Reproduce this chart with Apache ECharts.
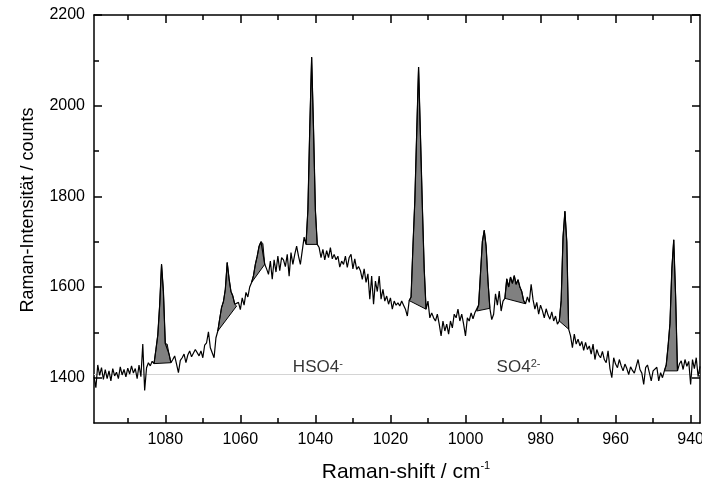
<!DOCTYPE html>
<html>
<head>
<meta charset="utf-8">
<script src="https://cdn.jsdelivr.net/npm/echarts@6/dist/echarts.min.js"></script>
<style>
html,body{margin:0;padding:0;background:#fff;}
#chart{width:702px;height:491px;}
</style>
</head>
<body>
<div id="chart"></div>
<script>
// ---- data ----
// Raman shift grid: 1099.0 down to 937.5 cm^-1 in 0.5 cm^-1 steps (10 values per row = 5 cm^-1)
var shiftStart = 1099.0;
var shiftStep = -0.5;
var intensity = [
  1402,1378,1428,1405,1422,1396,1418,1398,1415,1393, // 1099.0-1094.5
  1420,1404,1412,1398,1424,1406,1418,1402,1421,1408, // 1094.0-1089.5
  1426,1410,1420,1398,1428,1402,1474,1372,1422,1433, // 1089.0-1084.5
  1426,1436,1431,1462,1494,1560,1650,1590,1475,1474, // 1084.0-1079.5
  1452,1433,1440,1448,1430,1411,1438,1444,1452,1433, // 1079.0-1074.5
  1450,1459,1446,1444,1462,1466,1448,1459,1444,1472, // 1074.0-1069.5
  1477,1501,1466,1455,1444,1488,1503,1530,1555,1568, // 1069.0-1064.5
  1595,1654,1618,1590,1580,1562,1558,1566,1550,1576, // 1064.0-1059.5
  1560,1588,1578,1600,1610,1625,1650,1668,1690,1700, // 1059.0-1054.5
  1696,1650,1640,1628,1657,1617,1660,1633,1668,1636, // 1054.0-1049.5
  1665,1660,1645,1672,1624,1676,1650,1672,1690,1668, // 1049.0-1044.5
  1650,1652,1710,1694,1770,1950,2107,1950,1770,1694, // 1044.0-1039.5
  1687,1665,1683,1660,1680,1665,1687,1662,1672,1660, // 1039.0-1034.5
  1668,1644,1657,1650,1668,1643,1665,1672,1640,1662, // 1034.0-1029.5
  1639,1645,1636,1617,1640,1610,1629,1573,1624,1562, // 1029.0-1024.5
  1613,1590,1624,1573,1595,1569,1580,1562,1576,1551, // 1024.0-1019.5
  1569,1560,1565,1558,1569,1560,1551,1536,1570,1578, // 1019.0-1014.5
  1690,1790,1940,2085,1935,1780,1640,1551,1569,1532, // 1014.0-1009.5
  1543,1532,1525,1540,1518,1492,1525,1503,1518,1496, // 1009.0-1004.5
  1525,1510,1540,1532,1551,1525,1540,1518,1492,1532, // 1004.0-999.5
  1525,1543,1530,1543,1547,1560,1630,1700,1725,1690, // 999.0-994.5
  1613,1553,1528,1540,1585,1560,1591,1547,1569,1575, // 994.0-989.5
  1618,1600,1622,1608,1625,1606,1616,1600,1590,1570, // 989.0-984.5
  1563,1578,1566,1606,1572,1551,1566,1540,1560,1548, // 984.0-979.5
  1532,1552,1538,1529,1545,1525,1536,1518,1525,1570, // 979.0-974.5
  1710,1767,1700,1507,1492,1466,1496,1474,1485,1470, // 974.0-969.5
  1480,1460,1478,1462,1470,1452,1474,1440,1462,1450, // 969.0-964.5
  1444,1458,1440,1433,1459,1420,1400,1444,1430,1422, // 964.0-959.5
  1440,1426,1415,1430,1420,1407,1424,1416,1410,1425, // 959.0-954.5
  1440,1418,1410,1385,1422,1428,1411,1393,1415,1418, // 954.0-949.5
  1423,1393,1411,1400,1415,1428,1470,1520,1640,1704, // 949.0-944.5
  1580,1415,1430,1437,1418,1440,1425,1436,1385,1440, // 944.0-939.5
  1420,1444,1402,1425                                // 939.0-937.5
];
// shaded peak regions [from, to] in cm^-1
var peakRanges = [
  [1083.0, 1078.5], [1066.0, 1061.0], [1057.0, 1053.5], [1042.5, 1039.5],
  [1015.0, 1010.5], [997.0, 993.5], [989.5, 984.0], [975.0, 972.5], [947.0, 943.5]
];
var refLevel = 1408;
var annotations = [
  {name: 'HSO4', sup: '-', x: 1046.0},
  {name: 'SO4', sup: '2-', x: 991.7}
];
var xMin = 937.5, xMax = 1099.0;
var yMin = 1300, yMax = 2200;
var xTicks = [940, 960, 980, 1000, 1020, 1040, 1060, 1080];
var xMinorTicks = [950, 970, 990, 1010, 1030, 1050, 1070, 1090];
var yTicks = [1400, 1600, 1800, 2000, 2200];
var yMinorTicks = [1500, 1700, 1900, 2100];
var xTitle = 'Raman-shift / cm';
var xTitleSup = '-1';
var yTitle = 'Raman-Intensität / counts';

// ---- build ----
var spectrum = intensity.map(function (v, i) {
  return [+(shiftStart + shiftStep * i).toFixed(2), v];
});
var FONT = '"Liberation Sans", Arial, Helvetica, sans-serif';
var BLACK = '#000';
function plain(v) { return String(Math.round(v)); }

function xAxisDef(pos, ticks, len, withLabels, withLine) {
  return {
    type: 'value', min: xMin, max: xMax, inverse: true, position: pos,
    axisLine: {show: withLine, onZero: false, lineStyle: {color: BLACK, width: 1.5}},
    axisTick: {show: true, inside: true, length: len, customValues: ticks,
               lineStyle: {color: BLACK, width: 1.5}},
    axisLabel: {show: withLabels, customValues: ticks, fontSize: 16, color: BLACK,
                fontFamily: FONT, margin: 9, formatter: plain,
                showMinLabel: true, showMaxLabel: true, hideOverlap: false},
    splitLine: {show: false}
  };
}
function yAxisDef(pos, ticks, len, withLabels, withLine) {
  return {
    type: 'value', min: yMin, max: yMax, position: pos,
    axisLine: {show: withLine, onZero: false, lineStyle: {color: BLACK, width: 1.5}},
    axisTick: {show: true, inside: true, length: len, customValues: ticks,
               lineStyle: {color: BLACK, width: 1.5}},
    axisLabel: {show: withLabels, customValues: ticks, fontSize: 16, color: BLACK,
                fontFamily: FONT, margin: 9, formatter: plain,
                showMinLabel: true, showMaxLabel: true, hideOverlap: false},
    splitLine: {show: false}
  };
}

var xMain = xAxisDef('bottom', xTicks, 8, true, true);
xMain.name = '{t|' + xTitle + '}{s|' + xTitleSup + '}';
xMain.nameLocation = 'middle';
xMain.nameGap = 37;
xMain.nameTextStyle = {
  color: BLACK, fontFamily: FONT, padding: [0, 0, 0, 18],
  rich: {
    t: {fontSize: 21, fontFamily: FONT, color: BLACK, lineHeight: 24},
    s: {fontSize: 11, fontFamily: FONT, color: BLACK, verticalAlign: 'top', lineHeight: 14}
  }
};
var yMain = yAxisDef('left', yTicks, 8, true, true);
yMain.name = yTitle;
yMain.nameLocation = 'middle';
yMain.nameGap = 57;
yMain.nameTextStyle = {color: BLACK, fontFamily: FONT, fontSize: 18, padding: [0, 0, 0, 18]};

var option = {
  backgroundColor: '#fff',
  animation: false,
  grid: {left: 94, right: 2, top: 15, bottom: 68, containLabel: false, outerBoundsMode: 'none'},
  xAxis: [
    xMain,
    xAxisDef('bottom', xMinorTicks, 5, false, false),
    xAxisDef('top', xTicks, 8, false, true),
    xAxisDef('top', xMinorTicks, 5, false, false)
  ],
  yAxis: [
    yMain,
    yAxisDef('left', yMinorTicks, 5, false, false),
    yAxisDef('right', yTicks, 8, false, true),
    yAxisDef('right', yMinorTicks, 5, false, false)
  ],
  series: [
    {
      type: 'custom',
      xAxisIndex: 0, yAxisIndex: 0,
      clip: true,
      z: 2,
      dimensions: ['from', 'to'],
      encode: {x: ['from', 'to']},
      data: peakRanges,
      renderItem: function (params, api) {
        var r = peakRanges[params.dataIndex];
        var hi = Math.max(r[0], r[1]), lo = Math.min(r[0], r[1]);
        var pts = [];
        spectrum.forEach(function (p) {
          if (p[0] <= hi + 1e-6 && p[0] >= lo - 1e-6) pts.push(api.coord(p));
        });
        return {
          type: 'polygon',
          shape: {points: pts},
          style: {fill: '#808080', stroke: '#000', lineWidth: 1}
        };
      }
    },
    {
      type: 'line',
      xAxisIndex: 0, yAxisIndex: 0,
      data: spectrum,
      showSymbol: false,
      symbol: 'none',
      z: 3,
      lineStyle: {color: '#000', width: 1.2},
      markLine: {
        silent: true,
        symbol: ['none', 'none'],
        label: {show: false},
        lineStyle: {color: '#d4d4d4', width: 1, type: 'solid'},
        data: [{yAxis: refLevel}],
        z: 1
      }
    },
    {
      type: 'scatter',
      xAxisIndex: 0, yAxisIndex: 0,
      symbolSize: 0,
      z: 4,
      data: annotations.map(function (a) { return {value: [a.x, refLevel], name: a.name, sup: a.sup}; }),
      label: {
        show: true,
        position: 'top',
        distance: 0,
        align: 'left',
        offset: [0, 3],
        formatter: function (p) {
          return '{a|' + p.data.name + '}{s|' + p.data.sup + '}';
        },
        rich: {
          a: {fontSize: 17, fontFamily: FONT, color: '#000', lineHeight: 19},
          s: {fontSize: 11, fontFamily: FONT, color: '#000', verticalAlign: 'top', lineHeight: 12}
        }
      }
    }
  ]
};
var chart = echarts.init(document.getElementById('chart'), null, {renderer: 'canvas'});
chart.setOption(option);
</script>
</body>
</html>
